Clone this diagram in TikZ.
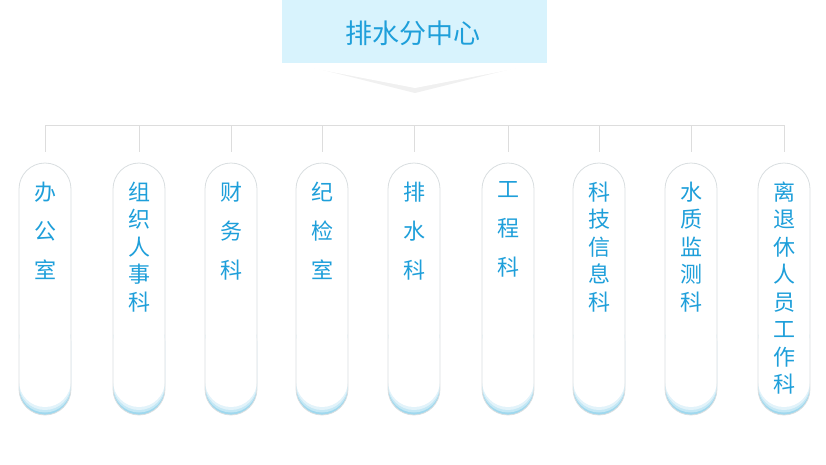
\documentclass[tikz,border=0pt]{standalone}
\usepackage{fontspec}
\newfontfamily\cjk{Noto Sans CJK SC}
\definecolor{titlebg}{HTML}{D8F3FD}
\definecolor{txtblue}{HTML}{1E9FDA}
\definecolor{linegray}{HTML}{DDDDDD}
\definecolor{pillgray}{HTML}{D9DEE0}
\definecolor{pillblue}{HTML}{9FD8EE}
\tikzset{
  pill/.style={draw=pillgray, line width=0.8pt, fill=white, rounded corners=26pt,
    minimum width=52pt, minimum height=252pt, inner sep=0pt,
    path picture={
      \fill[pillblue] (path picture bounding box.south west) rectangle ([yshift=40pt]path picture bounding box.south east);
      \fill[pillblue!60!white, rounded corners=26pt] ([yshift=2.5pt]path picture bounding box.south west) rectangle ([yshift=100pt]path picture bounding box.south east);
      \fill[pillblue!30!white, rounded corners=26pt] ([yshift=5pt]path picture bounding box.south west) rectangle ([yshift=100pt]path picture bounding box.south east);
      \fill[white, rounded corners=26pt] ([yshift=8pt]path picture bounding box.south west) rectangle ([yshift=100pt]path picture bounding box.south east);
      \fill[white] ([yshift=60pt]path picture bounding box.south west) rectangle (path picture bounding box.north east);
    }},
  wide/.style={anchor=north, inner sep=0pt, align=center, text=txtblue, font=\cjk\fontsize{22}{39}\selectfont},
  tight/.style={anchor=north, inner sep=0pt, align=center, text=txtblue, font=\cjk\fontsize{22}{27.5}\selectfont},
  conn/.style={draw=linegray, line width=0.8pt}
}
\begin{document}
\begin{tikzpicture}[x=1pt,y=-1pt]
\useasboundingbox (0,0) rectangle (826,464);
% title chevron shadow
\fill[gray!12] (295,63) -- (415,93) -- (535,63) -- cycle;
\fill[white] (285,63) -- (415,88) -- (545,63) -- cycle;
\node[fill=titlebg, minimum width=265pt, minimum height=63pt, inner sep=0pt, anchor=north west] (title) at (282,0) {};
\node[text=txtblue, font=\cjk\fontsize{27}{30}\selectfont, inner sep=0pt] (tt) at (413,33) {排水分中心};
% bus
\coordinate (busL) at (45,125);
\coordinate (busR) at (784,125);
\draw[conn] (busL) -- (busR);
\foreach \i/\x in {1/45,2/139,3/231,4/322,5/414,6/508,7/599,8/691,9/784}{
  \coordinate (b\i) at (\x,125);
  \coordinate (d\i) at (\x,152);
  \draw[conn] (b\i) -- (d\i);
  \node[pill] (p\i) at (\x,289) {};
}
\node[wide] (t1) at (45,181.5) {办\\公\\室};
\node[tight] (t2) at (139,181.5) {组\\织\\人\\事\\科};
\node[wide] (t3) at (231,181.5) {财\\务\\科};
\node[wide] (t4) at (322,181.5) {纪\\检\\室};
\node[wide] (t5) at (414,181.5) {排\\水\\科};
\node[wide] (t6) at (508,181.5) {工\\程\\科};
\node[tight] (t7) at (599,181.5) {科\\技\\信\\息\\科};
\node[tight] (t8) at (691,181.5) {水\\质\\监\\测\\科};
\node[tight] (t9) at (784,181.5) {离\\退\\休\\人\\员\\工\\作\\科};
\end{tikzpicture}
\end{document}
